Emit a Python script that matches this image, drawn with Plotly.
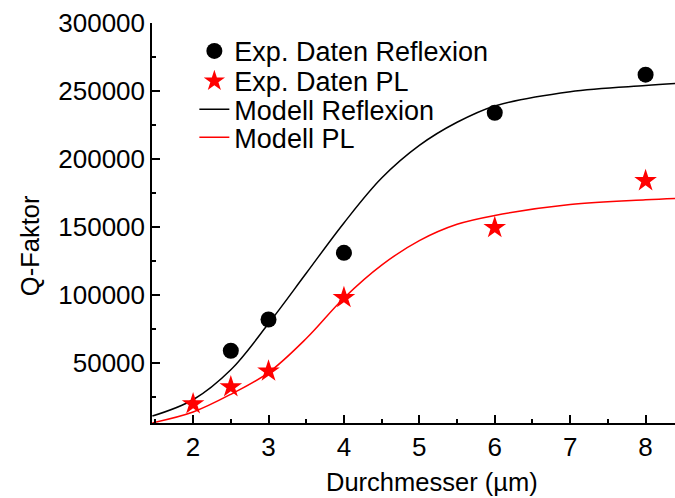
import plotly.graph_objects as go

# Experimental data
refl_x = [2.5, 3, 4, 6, 8]
refl_y = [59000, 82000, 131000, 234000, 262000]
pl_x = [2, 2.5, 3, 4, 6, 8]
pl_y = [20000, 32500, 44000, 98000, 149500, 184000]

# Model curves
model_x = [1.46, 2, 2.5, 3, 3.5, 4, 4.5, 5, 5.5, 6, 7, 8, 8.4]
model_refl = [11000, 23000, 45000, 79000, 116000, 153000, 186000, 210000, 227000, 239000, 249500, 254000, 255500]
model_pl = [6000, 14000, 27000, 43000, 68000, 97800, 122000, 140000, 152000, 158500, 166500, 170000, 171000]

names = ["Exp. Daten Reflexion", "Exp. Daten PL", "Modell Reflexion", "Modell PL"]

FONT = "Arial, Liberation Sans, sans-serif"
FS_TICK = 26
FS_TITLE = 25.5
FS_LEG = 27

fig = go.Figure()
fig.add_trace(go.Scatter(x=model_x, y=model_refl, mode="lines", line=dict(color="black", width=1.5, shape="spline"),
                         name=names[2], legend="legend3"))
fig.add_trace(go.Scatter(x=model_x, y=model_pl, mode="lines", line=dict(color="red", width=1.5, shape="spline"),
                         name=names[3], legend="legend4"))
fig.add_trace(go.Scatter(x=refl_x, y=refl_y, mode="markers", marker=dict(symbol="circle", size=16, color="black"),
                         name=names[0], legend="legend"))
fig.add_trace(go.Scatter(x=pl_x, y=pl_y, mode="markers", marker=dict(symbol="star", size=17, color="red", line=dict(width=0)),
                         name=names[1], legend="legend2"))

xr = [1.455, 8.39]
axis_common = dict(showgrid=False, zeroline=False, showline=True, linecolor="black", linewidth=1.5,
                   ticks="inside", tickcolor="black", tickwidth=1.5)

def leg(y):
    return dict(x=0.081, xanchor="left", y=y, yanchor="middle", bgcolor="rgba(0,0,0,0)",
                font=dict(family=FONT, size=FS_LEG, color="black"), borderwidth=0)

fig.update_layout(
    width=675, height=498,
    margin=dict(l=152, r=0, t=23, b=75),
    paper_bgcolor="white", plot_bgcolor="white",
    font=dict(family=FONT, size=FS_TICK, color="black"),
    showlegend=True,
    xaxis=dict(range=xr, tickmode="linear", tick0=0, dtick=1, ticklen=8,
               minor=dict(ticks="inside", dtick=0.5, tick0=0, ticklen=4, tickwidth=1.5, tickcolor="black"),
               tickfont=dict(family=FONT, size=FS_TICK), **axis_common),
    xaxis2=dict(range=xr, overlaying="x", side="top", tickmode="linear", tick0=0, dtick=0.5, ticklen=4,
                showticklabels=False, **axis_common),
    yaxis=dict(range=[5900, 300000], tickmode="linear", tick0=0, dtick=50000, tickformat="d", ticklen=8,
               minor=dict(ticks="inside", dtick=25000, tick0=0, ticklen=4, tickwidth=1.5, tickcolor="black"),
               tickfont=dict(family=FONT, size=FS_TICK), **axis_common),
    legend=leg(0.929), legend2=leg(0.854), legend3=leg(0.783), legend4=leg(0.713),
    annotations=[
        dict(text="Durchmesser (µm)", xref="paper", yref="paper", x=0.535, y=-0.1475,
             xanchor="center", yanchor="middle", showarrow=False, font=dict(family=FONT, size=FS_TITLE)),
        dict(text="Q-Faktor", xref="paper", yref="paper", x=-0.233, y=0.4425, textangle=-90,
             xanchor="center", yanchor="middle", showarrow=False, font=dict(family=FONT, size=FS_TITLE)),
    ],
)

fig.write_html("out.html")
